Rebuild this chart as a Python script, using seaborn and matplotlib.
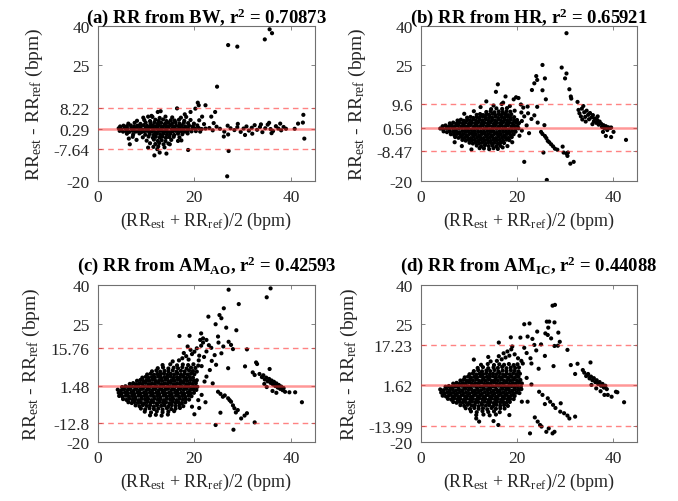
import matplotlib
matplotlib.use("Agg")
import matplotlib.pyplot as plt
import seaborn as sns
import pandas as pd

# ---------------- data ----------------
titles = [r"(a) RR from BW, r$^{\mathbf{2}}$ = 0.70873",
          r"(b) RR from HR, r$^{\mathbf{2}}$ = 0.65921",
          r"(c) RR from AM$_{\mathbf{AO}}$, r$^{\mathbf{2}}$ = 0.42593",
          r"(d) RR from AM$_{\mathbf{IC}}$, r$^{\mathbf{2}}$ = 0.44088"]
means = [0.29, 0.56, 1.48, 1.62]
uppers = [8.22, 9.6, 15.76, 17.23]
lowers = [-7.64, -8.47, -12.8, -13.99]
ytick_labels = [["-20", "-7.64", "0.29", "8.22", "25", "40"],
                ["-20", "-8.47", "0.56", "9.6", "25", "40"],
                ["-20", "-12.8", "1.48", "15.76", "25", "40"],
                ["-20", "-13.99", "1.62", "17.23", "25", "40"]]
xticks = [0, 20, 40]

bw_pts = [
(4.3,0.4),(4.8,0.1),(5.6,0.5),(6.1,0.2),(6.9,0.4),(7.4,0.0),(8.0,0.6),(8.7,0.3),(9.2,-0.1),(9.9,0.5),(10.4,0.2),(11.1,0.6),(11.6,0.1),(12.3,0.4),(12.8,0.0),(13.4,0.5),(14.1,0.2),(14.6,0.6),(15.3,0.1),(15.8,0.4),(16.5,0.0),(17.0,0.5),(17.7,0.2),(18.3,0.6),(18.8,0.1),(19.6,0.4),(20.2,0.2),(20.9,0.5),(21.5,0.1),(22.3,0.3),
(4.6,1.1),(5.3,1.4),(6.0,1.2),(6.8,1.5),(7.5,1.1),(8.2,1.4),(8.9,1.2),(9.5,1.6),(10.2,1.3),(10.8,1.0),(11.4,1.5),(12.0,1.2),(12.6,1.6),(13.2,1.1),(13.8,1.4),(14.4,1.2),(15.0,1.6),(15.6,1.0),(16.2,1.4),(16.8,1.2),(17.4,1.5),(18.1,1.1),(18.9,1.4),(19.7,1.2),(20.6,1.5),
(4.5,-0.6),(5.2,-0.9),(5.9,-0.7),(6.5,-1.0),(7.2,-0.6),(7.8,-0.9),(8.4,-0.7),(9.0,-1.1),(9.6,-0.8),(10.2,-0.6),(10.8,-1.0),(11.3,-0.7),(11.9,-1.1),(12.5,-0.8),(13.1,-0.6),(13.7,-1.0),(14.3,-0.7),(14.9,-1.1),(15.5,-0.8),(16.1,-0.6),(16.7,-1.0),(17.3,-0.7),(18.0,-0.9),(18.6,-0.6),(19.4,-0.8),(20.3,-0.7),(21.2,-0.9),
(6.3,2.2),(7.6,2.5),(8.8,2.1),(9.9,2.6),(10.9,2.3),(11.7,2.7),(12.4,2.2),(13.1,2.5),(13.9,2.1),(14.6,2.6),(15.4,2.3),(16.1,2.7),(16.9,2.2),(17.8,2.5),(18.7,2.4),(19.9,2.2),
(6.0,-1.7),(7.3,-2.0),(8.6,-1.6),(9.8,-2.1),(10.7,-1.8),(11.5,-2.2),(12.2,-1.7),(12.9,-2.0),(13.6,-1.6),(14.3,-2.1),(15.0,-1.8),(15.8,-2.2),(16.6,-1.7),(17.5,-1.9),(18.6,-1.6),
(8.1,3.3),(9.6,3.6),(10.8,3.2),(11.9,3.7),(12.6,3.3),(13.5,3.8),(14.2,3.2),(15.1,3.5),(15.9,3.4),(16.8,3.7),(17.9,3.3),(19.2,3.6),
(7.2,-2.9),(9.3,-3.1),(10.5,-2.8),(11.4,-3.3),(12.0,-2.9),(12.8,-3.2),(13.4,-2.8),(14.1,-3.3),(14.8,-3.0),(15.7,-2.9),(16.9,-3.1),
(9.4,4.5),(11.3,4.8),(12.8,4.4),(14.0,4.9),(15.4,4.6),(17.2,4.5),(18.3,4.8),
(8.0,-4.1),(10.1,-4.4),(11.6,-4.0),(12.4,-4.5),(13.2,-4.2),(14.0,-4.6),(15.2,-4.1),(17.3,-4.3),
(10.8,-5.4),(11.9,-5.7),(12.7,-5.3),(13.6,-5.8),(14.6,-5.5),(11.5,-6.8),(12.5,-6.6),(13.8,-7.0),
(11.7,-10.1),(12.8,-9.0),(14.2,-9.4),(10.4,-7.1),(12.3,-7.7),(6.6,-5.8),(6.4,-3.6),(16.6,-4.5),(14.9,-5.8),(18.7,-8.0),
(20.7,10.3),(20.9,9.3),(22.3,9.3),(16.4,8.1),(19.2,6.7),(20.2,8.0),(24.3,6.7),(23.5,4.9),(21.6,4.9),(12.4,6.7),(13.0,7.0),(10.4,4.9),(11.1,5.2),(18.0,5.8),(21.0,3.5),(22.0,2.0),
(23.1,0.5),(23.8,-0.4),(24.6,1.0),(25.3,0.2),(26.2,-0.9),(26.9,1.4),(27.5,0.4),(28.3,-0.3),(28.9,0.8),(29.6,-1.0),(30.2,0.3),(30.8,1.1),(31.3,-0.5),(31.9,0.6),(32.5,1.6),(33.0,-0.2),(33.6,0.9),(34.1,-1.1),(34.7,0.4),(35.2,1.8),(35.8,0.1),(36.3,-0.7),(36.9,1.2),(37.4,0.3),(38.0,-0.4),(38.5,0.9),(39.0,0.2),(29.0,2.1),(27.0,-2.0),(32.0,-1.7),(35.5,2.5),(37.8,2.2),(24.0,2.4),(30.5,-2.2),(33.8,1.9),(36.0,-1.5),(26.1,-2.8),
(34.6,34.8),(35.6,38.7),(36.1,37.2),(27.0,32.6),(28.9,32.0),(24.7,16.5),(26.8,-18.2),(27.1,-8.4),(42.6,5.6),(42.5,2.6),(41.5,2.2),(42.8,-3.6),(40.8,0.2),
]

hr_pts = [
(4.0,0.3),(4.6,0.0),(5.3,0.4),(5.9,0.1),(6.6,0.5),(7.2,0.0),(7.9,0.3),(8.5,0.6),(9.2,0.1),(9.8,0.4),(10.5,0.0),(11.1,0.5),(11.8,0.2),(12.4,0.6),(13.1,0.1),(13.7,0.4),(14.4,0.0),(15.0,0.5),(15.7,0.2),(16.3,0.6),(17.0,0.1),(17.6,0.4),(18.3,0.0),(18.9,0.5),(19.6,0.2),(20.3,0.4),
(4.5,1.2),(5.1,1.5),(5.8,1.1),(6.4,1.4),(7.1,1.2),(7.7,1.6),(8.4,1.1),(9.0,1.4),(9.7,1.2),(10.3,1.6),(11.0,1.1),(11.6,1.5),(12.3,1.2),(12.9,1.6),(13.6,1.1),(14.2,1.4),(14.9,1.2),(15.5,1.6),(16.2,1.1),(16.8,1.5),(17.5,1.2),(18.1,1.6),(18.8,1.1),(19.4,1.4),(20.1,1.3),
(4.7,-0.8),(5.4,-1.1),(6.0,-0.7),(6.7,-1.0),(7.3,-0.8),(8.0,-1.2),(8.6,-0.7),(9.3,-1.0),(9.9,-0.8),(10.6,-1.2),(11.2,-0.7),(11.9,-1.0),(12.5,-0.8),(13.2,-1.2),(13.8,-0.7),(14.5,-1.0),(15.1,-0.8),(15.8,-1.2),(16.4,-0.7),(17.1,-1.0),(17.7,-0.8),(18.4,-1.1),(19.0,-0.7),(19.7,-0.9),
(6.0,2.3),(6.7,2.6),(7.4,2.2),(8.0,2.5),(8.7,2.3),(9.3,2.7),(10.0,2.2),(10.6,2.5),(11.3,2.3),(11.9,2.7),(12.6,2.2),(13.2,2.5),(13.9,2.3),(14.5,2.7),(15.2,2.2),(15.8,2.5),(16.5,2.3),(17.1,2.7),(17.8,2.2),(18.4,2.5),(19.1,2.3),(19.8,2.6),(20.4,2.4),
(6.2,-1.9),(6.9,-2.2),(7.5,-1.8),(8.2,-2.1),(8.8,-1.9),(9.5,-2.3),(10.1,-1.8),(10.8,-2.1),(11.4,-1.9),(12.1,-2.3),(12.7,-1.8),(13.4,-2.1),(14.0,-1.9),(14.7,-2.3),(15.3,-1.8),(16.0,-2.1),(16.6,-1.9),(17.3,-2.3),(17.9,-1.8),(18.6,-2.1),(19.3,-1.9),
(7.6,3.4),(8.3,3.7),(8.9,3.3),(9.6,3.6),(10.2,3.4),(10.9,3.8),(11.5,3.3),(12.2,3.6),(12.8,3.4),(13.5,3.8),(14.1,3.3),(14.8,3.6),(15.4,3.4),(16.1,3.8),(16.7,3.3),(17.4,3.6),(18.0,3.4),(18.7,3.7),(19.4,3.3),(20.0,3.6),
(7.1,-3.0),(7.8,-3.3),(8.4,-2.9),(9.1,-3.2),(9.7,-3.0),(10.4,-3.4),(11.0,-2.9),(11.7,-3.2),(12.3,-3.0),(13.0,-3.4),(13.6,-2.9),(14.3,-3.2),(14.9,-3.0),(15.6,-3.4),(16.2,-2.9),(16.9,-3.2),(17.5,-3.0),(18.2,-3.3),(18.9,-3.0),
(9.6,4.5),(10.3,4.8),(10.9,4.4),(11.6,4.7),(12.2,4.5),(12.9,4.9),(13.5,4.4),(14.2,4.7),(14.8,4.5),(15.5,4.9),(16.1,4.4),(16.8,4.7),(17.4,4.5),(18.1,4.8),(18.7,4.4),(19.4,4.7),
(8.6,-4.1),(9.3,-4.4),(9.9,-4.0),(10.6,-4.3),(11.2,-4.1),(11.9,-4.5),(12.5,-4.0),(13.2,-4.3),(13.8,-4.1),(14.5,-4.5),(15.1,-4.0),(15.8,-4.3),(16.4,-4.1),(17.1,-4.4),(17.8,-4.0),(18.4,-4.2),
(11.6,5.6),(12.3,5.9),(12.9,5.5),(13.6,5.8),(14.2,5.6),(14.9,6.0),(15.5,5.5),(16.2,5.8),(16.8,5.6),(17.5,5.9),(18.1,5.5),(18.8,5.8),
(10.1,-5.2),(10.8,-5.5),(11.4,-5.1),(12.1,-5.4),(12.7,-5.2),(13.4,-5.6),(14.0,-5.1),(14.7,-5.4),(15.3,-5.2),(16.0,-5.5),(16.6,-5.1),(17.3,-5.3),
(13.6,6.7),(14.5,7.0),(15.3,6.6),(16.2,6.9),(17.0,6.7),(17.8,7.0),(18.6,6.8),
(11.6,-6.3),(12.5,-6.6),(13.3,-6.2),(14.1,-6.5),(14.9,-6.3),(15.7,-6.6),(16.5,-6.4),
(14.6,7.8),(15.7,8.1),(16.9,7.9),(17.9,8.2),
(13.1,-7.4),(14.2,-7.7),(15.1,-7.3),(16.0,-7.6),(12.2,-7.3),(17.0,-7.0),
(13.6,10.8),(15.1,9.2),(16.8,9.8),(17.6,12.7),(17.1,10.3),(12.4,8.6),(11.0,7.0),(16.0,17.4),(15.6,14.5),(19.8,12.4),(20.3,12.1),(19.3,11.6),(20.8,9.6),(21.3,8.4),(22.2,8.8),(24.2,8.7),(23.6,5.4),(24.3,2.6),(25.7,1.6),(20.9,6.5),(21.5,5.0),(22.3,6.2),(23.0,4.0),(21.0,3.2),(22.0,1.5),(19.5,7.2),(18.5,9.0),(9.0,6.0),(7.0,-5.0),(8.5,-6.5),(20.5,-2.5),(21.0,-0.5),(22.5,-1.5),(10.5,-7.8),(18.0,-6.5),(19.0,-5.0),
(30.3,37.2),(25.3,24.9),(25.8,19.7),(24.0,20.6),(24.2,19.1),(23.6,17.8),(23.1,15.2),(25.3,15.1),(26.0,11.6),(29.3,23.9),(30.3,21.6),(30.0,19.7),(30.9,15.5),(31.2,12.7),(31.3,11.9),
(25.0,-1.0),(25.3,-1.8),(25.8,-2.6),(26.1,-3.4),(26.4,-4.5),(26.7,-5.0),(27.1,-5.8),(27.5,-6.6),(27.9,-7.5),(28.4,-7.9),(29.5,-6.7),(29.7,-9.0),(30.3,-9.4),(30.6,-9.0),(30.5,-10.3),(31.1,-13.3),(31.8,-12.6),(25.5,-9.0),(21.5,-12.6),(26.2,-19.6),
(32.6,10.6),(33.8,9.0),(33.0,6.2),(32.8,7.5),(33.3,5.0),(33.5,8.0),(34.0,6.6),(34.2,4.8),(34.5,7.2),(34.8,5.6),(35.0,3.9),(35.2,6.3),(35.5,4.6),(35.8,5.5),(36.0,3.1),(36.2,4.2),(36.5,2.5),(36.7,3.6),(37.0,1.8),(37.2,3.0),(37.5,2.2),(37.7,0.9),(38.0,1.6),(38.2,0.4),(38.5,1.2),(38.8,-0.3),(39.0,0.8),(39.4,0.5),(39.6,0.7),(40.1,-1.0),(39.6,-3.0),(38.5,-2.6),(42.7,-4.1),(34.3,3.0),(35.7,2.0),(36.8,5.0),(33.6,3.8),(37.9,-1.0),
]

amao_pts = [
(4.1,0.0),(4.8,-0.3),(5.4,0.2),(6.1,-0.2),(6.7,0.1),(7.4,-0.4),(8.0,0.2),(8.7,-0.1),(9.3,0.3),(10.0,-0.3),(10.6,0.1),(11.3,-0.2),(11.9,0.2),(12.6,-0.3),(13.2,0.1),(13.9,-0.1),(14.5,0.3),(15.2,-0.2),(15.8,0.1),(16.5,-0.3),(17.1,0.2),(17.8,-0.1),(18.4,0.3),(19.1,-0.2),(19.8,0.1),(20.4,-0.1),
(5.0,1.0),(5.7,1.3),(6.3,0.9),(7.0,1.2),(7.6,1.0),(8.3,1.4),(8.9,0.9),(9.6,1.2),(10.2,1.0),(10.9,1.4),(11.5,0.9),(12.2,1.2),(12.8,1.0),(13.5,1.4),(14.1,0.9),(14.8,1.2),(15.4,1.0),(16.1,1.4),(16.7,0.9),(17.4,1.2),(18.0,1.0),(18.7,1.3),(19.3,0.9),(20.0,1.2),(20.6,1.1),
(4.3,-1.2),(4.9,-1.5),(5.6,-1.1),(6.2,-1.4),(6.9,-1.2),(7.5,-1.6),(8.2,-1.1),(8.8,-1.4),(9.5,-1.2),(10.1,-1.6),(10.8,-1.1),(11.4,-1.4),(12.1,-1.2),(12.7,-1.6),(13.4,-1.1),(14.0,-1.4),(14.7,-1.2),(15.3,-1.6),(16.0,-1.1),(16.6,-1.4),(17.3,-1.2),(17.9,-1.5),(18.6,-1.1),(19.2,-1.4),(19.9,-1.2),
(6.6,2.2),(7.3,2.5),(7.9,2.1),(8.6,2.4),(9.2,2.2),(9.9,2.6),(10.5,2.1),(11.2,2.4),(11.8,2.2),(12.5,2.6),(13.1,2.1),(13.8,2.4),(14.4,2.2),(15.1,2.6),(15.7,2.1),(16.4,2.4),(17.0,2.2),(17.7,2.6),(18.3,2.1),(19.0,2.4),(19.6,2.2),(20.3,2.5),
(4.4,-2.4),(5.1,-2.7),(5.8,-2.3),(6.4,-2.6),(7.1,-2.4),(7.7,-2.8),(8.4,-2.3),(9.0,-2.6),(9.7,-2.4),(10.3,-2.8),(11.0,-2.3),(11.6,-2.6),(12.3,-2.4),(12.9,-2.8),(13.6,-2.3),(14.2,-2.6),(14.9,-2.4),(15.5,-2.8),(16.2,-2.3),(16.8,-2.6),(17.5,-2.4),(18.1,-2.7),(18.8,-2.3),(19.4,-2.5),
(8.1,3.4),(8.8,3.7),(9.4,3.3),(10.1,3.6),(10.7,3.4),(11.4,3.8),(12.0,3.3),(12.7,3.6),(13.3,3.4),(14.0,3.8),(14.6,3.3),(15.3,3.6),(15.9,3.4),(16.6,3.8),(17.2,3.3),(17.9,3.6),(18.5,3.4),(19.2,3.7),(19.9,3.4),(20.5,3.6),
(5.2,-3.6),(5.9,-3.9),(6.5,-3.5),(7.2,-3.8),(7.8,-3.6),(8.5,-4.0),(9.1,-3.5),(9.8,-3.8),(10.4,-3.6),(11.1,-4.0),(11.7,-3.5),(12.4,-3.8),(13.0,-3.6),(13.7,-4.0),(14.3,-3.5),(15.0,-3.8),(15.6,-3.6),(16.3,-4.0),(16.9,-3.5),(17.6,-3.8),(18.2,-3.6),(18.9,-3.8),
(9.2,4.6),(9.9,4.9),(10.5,4.5),(11.2,4.8),(11.8,4.6),(12.5,5.0),(13.1,4.5),(13.8,4.8),(14.4,4.6),(15.1,5.0),(15.7,4.5),(16.4,4.8),(17.0,4.6),(17.7,4.9),(18.3,4.5),(19.0,4.8),(19.7,4.6),
(6.3,-4.8),(7.0,-5.1),(7.6,-4.7),(8.3,-5.0),(8.9,-4.8),(9.6,-5.2),(10.2,-4.7),(10.9,-5.0),(11.5,-4.8),(12.2,-5.2),(12.8,-4.7),(13.5,-5.0),(14.1,-4.8),(14.8,-5.2),(15.4,-4.7),(16.1,-5.0),(16.7,-4.8),(17.4,-5.1),(18.1,-4.8),
(10.2,5.8),(10.9,6.1),(11.6,5.7),(12.3,6.0),(13.0,5.8),(13.7,6.2),(14.4,5.7),(15.1,6.0),(15.8,5.8),(16.5,6.2),(17.2,5.7),(17.9,6.0),(18.6,5.8),(19.3,6.1),(20.0,5.9),
(7.8,-6.0),(8.6,-6.3),(9.3,-5.9),(10.1,-6.2),(10.8,-6.0),(11.6,-6.4),(12.3,-5.9),(13.1,-6.2),(13.8,-6.0),(14.6,-6.4),(15.3,-5.9),(16.1,-6.2),(16.9,-6.0),(17.7,-6.3),
(11.2,7.0),(12.1,7.3),(12.9,6.9),(13.8,7.2),(14.6,7.0),(15.5,7.4),(16.3,6.9),(17.2,7.2),(18.0,7.0),(18.9,7.3),(19.7,7.1),(20.5,6.9),
(8.9,-7.2),(9.8,-7.5),(10.7,-7.1),(11.6,-7.4),(12.5,-7.2),(13.4,-7.6),(14.3,-7.1),(15.2,-7.4),(16.1,-7.2),(17.0,-7.0),
(12.4,8.2),(13.5,8.5),(14.6,8.1),(15.7,8.4),(16.6,8.2),(17.5,8.6),(18.4,8.1),(19.3,8.4),(20.2,8.3),
(9.7,-8.4),(11.0,-8.7),(12.2,-8.3),(13.4,-8.6),(14.6,-8.4),(15.8,-8.2),
(13.4,9.4),(15.0,9.7),(16.4,9.3),(17.6,9.6),(18.7,9.4),(19.8,9.7),(20.8,9.2),
(10.8,-9.8),(12.0,-9.6),(13.2,-9.9),(14.5,-9.5),
(15.5,10.8),(16.8,11.2),(17.5,12.0),(18.3,12.8),(18.8,11.5),(19.5,13.6),(20.0,14.5),(20.5,15.8),(21.0,13.0),(21.4,16.8),(21.8,18.0),(19.2,15.2),(17.8,14.0),(18.6,16.5),(20.9,11.2),(22.0,12.5),(22.5,14.6),(21.2,19.0),(16.9,20.5),(19.0,20.6),(21.4,21.5),(21.8,19.6),(22.5,19.0),(23.0,17.0),(23.5,16.0),
(27.1,38.2),(35.8,38.7),(35.0,35.3),(29.2,32.7),(26.1,31.1),(22.9,27.9),(25.2,28.5),(25.6,27.3),(24.4,25.0),(26.6,23.7),(28.7,22.7),(24.9,20.3),(27.1,18.3),(27.6,17.1),(28.0,15.5),(24.2,13.2),(25.6,13.9),(27.0,8.2),(30.9,15.4),(30.5,8.9),(32.8,10.4),(33.0,9.8),(35.6,7.9),(32.1,6.6),(32.5,5.6),(23.6,11.0),(24.5,9.5),(26.0,16.5),(25.0,18.0),(22.1,3.1),(23.8,2.4),(22.5,5.0),(23.2,7.5),(21.5,9.0),
(33.5,6.0),(34.0,4.8),(34.3,5.5),(34.6,3.9),(34.9,4.6),(35.2,3.2),(35.5,4.1),(35.8,2.6),(36.0,3.5),(36.3,2.0),(36.5,3.0),(36.8,1.4),(37.0,2.4),(37.3,0.8),(37.5,1.8),(37.8,0.3),(38.0,1.2),(38.3,-0.2),(38.5,0.6),(38.8,-0.8),(36.2,-0.5),(37.0,-1.2),(35.0,1.0),(34.5,2.2),(39.7,-1.0),(40.9,-1.0),(42.3,-4.8),
(24.9,-0.8),(25.4,-1.6),(25.9,-2.7),(26.3,-2.2),(27.0,-3.3),(27.3,-4.0),(27.6,-4.6),(28.0,-6.0),(28.3,-7.1),(28.6,-8.7),(29.0,-7.8),(29.7,-11.0),(30.4,-9.9),(30.9,-9.0),(32.5,-12.5),(24.4,-13.5),(28.1,-15.3),(25.4,-8.8),(22.3,-4.8),(20.0,-9.4),(21.0,-7.0),(19.5,-6.5),(20.8,-4.0),(21.5,-2.0),
]

amic_pts = [
(4.0,0.1),(4.7,-0.2),(5.3,0.3),(6.0,-0.1),(6.6,0.2),(7.3,-0.3),(7.9,0.1),(8.6,-0.2),(9.2,0.3),(9.9,-0.1),(10.5,0.2),(11.2,-0.3),(11.8,0.1),(12.5,-0.2),(13.1,0.3),(13.8,-0.1),(14.4,0.2),(15.1,-0.3),(15.7,0.1),(16.4,-0.2),(17.0,0.3),(17.7,-0.1),(18.3,0.2),(19.0,-0.3),(19.6,0.1),(20.3,0.0),(20.9,0.2),
(5.1,1.1),(5.8,1.4),(6.4,1.0),(7.1,1.3),(7.7,1.1),(8.4,1.5),(9.0,1.0),(9.7,1.3),(10.3,1.1),(11.0,1.5),(11.6,1.0),(12.3,1.3),(12.9,1.1),(13.6,1.5),(14.2,1.0),(14.9,1.3),(15.5,1.1),(16.2,1.5),(16.8,1.0),(17.5,1.3),(18.1,1.1),(18.8,1.4),(19.4,1.0),(20.1,1.3),(20.8,1.2),
(4.2,-1.1),(4.9,-1.4),(5.5,-1.0),(6.2,-1.3),(6.8,-1.1),(7.5,-1.5),(8.1,-1.0),(8.8,-1.3),(9.4,-1.1),(10.1,-1.5),(10.7,-1.0),(11.4,-1.3),(12.0,-1.1),(12.7,-1.5),(13.3,-1.0),(14.0,-1.3),(14.6,-1.1),(15.3,-1.5),(15.9,-1.0),(16.6,-1.3),(17.2,-1.1),(17.9,-1.4),(18.5,-1.0),(19.2,-1.3),(19.9,-1.1),(20.5,-1.3),
(6.7,2.3),(7.4,2.6),(8.0,2.2),(8.7,2.5),(9.3,2.3),(10.0,2.7),(10.6,2.2),(11.3,2.5),(11.9,2.3),(12.6,2.7),(13.2,2.2),(13.9,2.5),(14.5,2.3),(15.2,2.7),(15.8,2.2),(16.5,2.5),(17.1,2.3),(17.8,2.7),(18.4,2.2),(19.1,2.5),(19.7,2.3),(20.4,2.6),(21.0,2.4),
(4.5,-2.3),(5.2,-2.6),(5.8,-2.2),(6.5,-2.5),(7.1,-2.3),(7.8,-2.7),(8.4,-2.2),(9.1,-2.5),(9.7,-2.3),(10.4,-2.7),(11.0,-2.2),(11.7,-2.5),(12.3,-2.3),(13.0,-2.7),(13.6,-2.2),(14.3,-2.5),(14.9,-2.3),(15.6,-2.7),(16.2,-2.2),(16.9,-2.5),(17.5,-2.3),(18.2,-2.6),(18.8,-2.2),(19.5,-2.4),
(8.2,3.5),(8.9,3.8),(9.5,3.4),(10.2,3.7),(10.8,3.5),(11.5,3.9),(12.1,3.4),(12.8,3.7),(13.4,3.5),(14.1,3.9),(14.7,3.4),(15.4,3.7),(16.0,3.5),(16.7,3.9),(17.3,3.4),(18.0,3.7),(18.6,3.5),(19.3,3.8),(20.0,3.5),(20.7,3.7),
(5.6,-3.5),(6.3,-3.8),(6.9,-3.4),(7.6,-3.7),(8.2,-3.5),(8.9,-3.9),(9.5,-3.4),(10.2,-3.7),(10.8,-3.5),(11.5,-3.9),(12.1,-3.4),(12.8,-3.7),(13.4,-3.5),(14.1,-3.9),(14.7,-3.4),(15.4,-3.7),(16.0,-3.5),(16.7,-3.9),(17.3,-3.4),(18.0,-3.7),(18.6,-3.5),(19.3,-3.6),
(9.1,4.7),(9.8,5.0),(10.4,4.6),(11.1,4.9),(11.7,4.7),(12.4,5.1),(13.0,4.6),(13.7,4.9),(14.3,4.7),(15.0,5.1),(15.6,4.6),(16.3,4.9),(16.9,4.7),(17.6,5.0),(18.2,4.6),(18.9,4.9),(19.6,4.7),(20.3,4.9),
(6.7,-4.7),(7.4,-5.0),(8.0,-4.6),(8.7,-4.9),(9.3,-4.7),(10.0,-5.1),(10.6,-4.6),(11.3,-4.9),(11.9,-4.7),(12.6,-5.1),(13.2,-4.6),(13.9,-4.9),(14.5,-4.7),(15.2,-5.1),(15.8,-4.6),(16.5,-4.9),(17.1,-4.7),(17.8,-5.0),(18.5,-4.7),
(10.1,5.9),(10.8,6.2),(11.5,5.8),(12.2,6.1),(12.9,5.9),(13.6,6.3),(14.3,5.8),(15.0,6.1),(15.7,5.9),(16.4,6.3),(17.1,5.8),(17.8,6.1),(18.5,5.9),(19.2,6.2),(19.9,5.9),(20.6,6.1),
(8.2,-5.9),(9.0,-6.2),(9.7,-5.8),(10.5,-6.1),(11.2,-5.9),(12.0,-6.3),(12.7,-5.8),(13.5,-6.1),(14.2,-5.9),(15.0,-6.3),(15.7,-5.8),(16.5,-6.1),(17.3,-5.9),(18.1,-6.2),
(11.0,7.1),(11.9,7.4),(12.7,7.0),(13.6,7.3),(14.4,7.1),(15.3,7.5),(16.1,7.0),(17.0,7.3),(17.8,7.1),(18.7,7.4),(19.5,7.2),(20.3,7.0),
(9.3,-7.1),(10.2,-7.4),(11.1,-7.0),(12.0,-7.3),(12.9,-7.1),(13.8,-7.5),(14.7,-7.0),(15.6,-7.3),(16.5,-7.1),(17.4,-7.2),
(11.8,8.3),(12.9,8.6),(14.0,8.2),(15.1,8.5),(16.0,8.3),(16.9,8.7),(17.8,8.2),(18.7,8.5),(19.6,8.3),(20.4,8.5),
(10.4,-8.3),(11.6,-8.6),(12.8,-8.2),(14.0,-8.5),(15.2,-8.3),(16.4,-8.6),
(12.5,9.5),(13.9,9.8),(15.2,9.4),(16.3,9.7),(17.3,9.5),(18.3,9.8),(19.3,9.4),(20.1,9.7),
(11.5,-9.7),(13.0,-9.5),(14.3,-9.8),(15.6,-9.5),
(14.5,10.8),(15.8,11.0),(16.8,11.6),(17.6,12.3),(18.4,13.0),(16.2,12.8),(17.2,13.9),(18.0,14.6),(18.8,15.4),(19.5,13.5),(20.2,12.0),(20.9,11.0),(19.0,16.5),(11.0,11.5),(14.0,12.5),(16.2,18.0),(18.7,20.0),(20.7,19.9),(22.2,20.3),(23.2,19.4),(21.5,25.0),(22.6,25.3),(24.2,22.2),(21.5,16.0),(22.0,14.0),(22.8,12.0),(21.2,10.0),(23.6,17.1),(25.0,17.3),
(27.4,32.1),(27.9,32.4),(26.2,26.0),(26.7,26.0),(27.8,25.7),(26.5,23.7),(25.9,21.5),(26.4,20.9),(28.6,21.8),(27.1,19.6),(28.9,18.3),(27.8,16.7),(28.5,16.8),(25.8,12.9),(27.6,9.0),(30.5,15.2),(31.2,9.4),(32.6,9.9),(32.1,6.0),(35.3,10.4),(33.7,7.5),(34.7,5.6),(24.0,15.0),(23.0,10.0),(24.5,8.0),(22.0,4.5),(23.0,2.0),
(34.0,6.5),(34.4,5.2),(34.8,6.0),(35.1,4.3),(35.4,5.0),(35.7,3.6),(36.0,4.4),(36.3,2.9),(36.6,3.6),(36.9,2.2),(37.2,2.9),(37.5,1.5),(37.8,2.2),(38.1,0.8),(38.4,1.5),(38.7,0.2),(38.2,-2.0),(38.9,-2.0),(39.7,-2.7),(40.6,-0.8),(40.9,-1.0),(42.3,-4.8),(36.5,0.5),(37.4,-0.6),(35.5,1.8),
(24.6,-0.8),(25.3,-2.0),(26.4,-3.3),(26.9,-4.6),(29.1,-5.2),(29.0,-8.4),(29.8,-9.0),(30.5,-9.9),(30.9,-11.0),(32.1,-10.3),(23.7,-10.6),(24.3,-12.2),(24.8,-13.5),(25.1,-14.1),(22.7,-16.7),(26.1,-16.1),(27.4,-16.7),(27.8,-16.1),(26.6,-14.8),(22.2,-4.6),(21.0,-4.6),(18.4,-9.7),(16.1,-13.5),(15.1,-12.0),(12.1,-12.2),(11.5,-11.0),(25.8,-5.5),(28.0,-7.0),(27.5,-5.8),
]

all_pts = [bw_pts, hr_pts, amao_pts, amic_pts]

# ---------------- style ----------------
sns.set_style("ticks")
plt.rcParams["font.family"] = ["Liberation Serif", "DejaVu Serif"]
plt.rcParams["mathtext.fontset"] = "custom"
plt.rcParams["mathtext.rm"] = "Liberation Serif"
plt.rcParams["mathtext.it"] = "Liberation Serif:italic"
plt.rcParams["mathtext.bf"] = "Liberation Serif:bold"

fig = plt.figure(figsize=(6.78, 5.02), dpi=100)
positions = [[0.1445, 0.6375, 0.320, 0.3088],
             [0.621, 0.6375, 0.3186, 0.3088],
             [0.1445, 0.1175, 0.320, 0.3128],
             [0.621, 0.1175, 0.3186, 0.3128]]
title_y = [1.026, 1.026, 1.094, 1.094]

frame_col = "#707070"
text_col = "#262626"

for i in range(4):
    ax = fig.add_axes(positions[i])
    df = pd.DataFrame(all_pts[i], columns=["avg", "diff"])
    sns.scatterplot(data=df, x="avg", y="diff", ax=ax, color="black",
                    s=9, linewidth=0, edgecolor="none", zorder=2)
    ax.axhline(means[i], color="#ff3030", alpha=0.5, lw=1.8, zorder=3)
    ax.axhline(uppers[i], color="#ff3030", alpha=0.6, lw=1.0, ls=(0, (4, 3)), zorder=3)
    ax.axhline(lowers[i], color="#ff3030", alpha=0.6, lw=1.0, ls=(0, (4, 3)), zorder=3)
    ax.set_xlim(0, 45)
    ax.set_ylim(-20, 40)
    ax.set_xticks(xticks)
    ax.set_xticklabels([str(t) for t in xticks])
    ax.set_yticks([-20, lowers[i], means[i], uppers[i], 25, 40])
    ax.set_yticklabels(ytick_labels[i])
    ax.tick_params(direction="in", length=3, width=0.6, top=True, right=True,
                   labelsize=12.5, colors=frame_col, labelcolor=text_col)
    ax.tick_params(axis="x", pad=6)
    ax.tick_params(axis="y", pad=6)
    for sp in ax.spines.values():
        sp.set_visible(True)
        sp.set_color(frame_col)
        sp.set_linewidth(0.8)
    ax.set_xlabel(r"(RR$_{\mathrm{est}}$ + RR$_{\mathrm{ref}}$)/2 (bpm)",
                  fontsize=13, color=text_col, labelpad=3)
    ax.set_ylabel(r"RR$_{\mathrm{est}}$ - RR$_{\mathrm{ref}}$ (bpm)",
                  fontsize=14, color=text_col, labelpad=6)
    ax.set_title(titles[i], fontsize=13.5, fontweight="bold", color="black",
                 y=title_y[i], pad=0)

fig.savefig("out.png", dpi=100)
